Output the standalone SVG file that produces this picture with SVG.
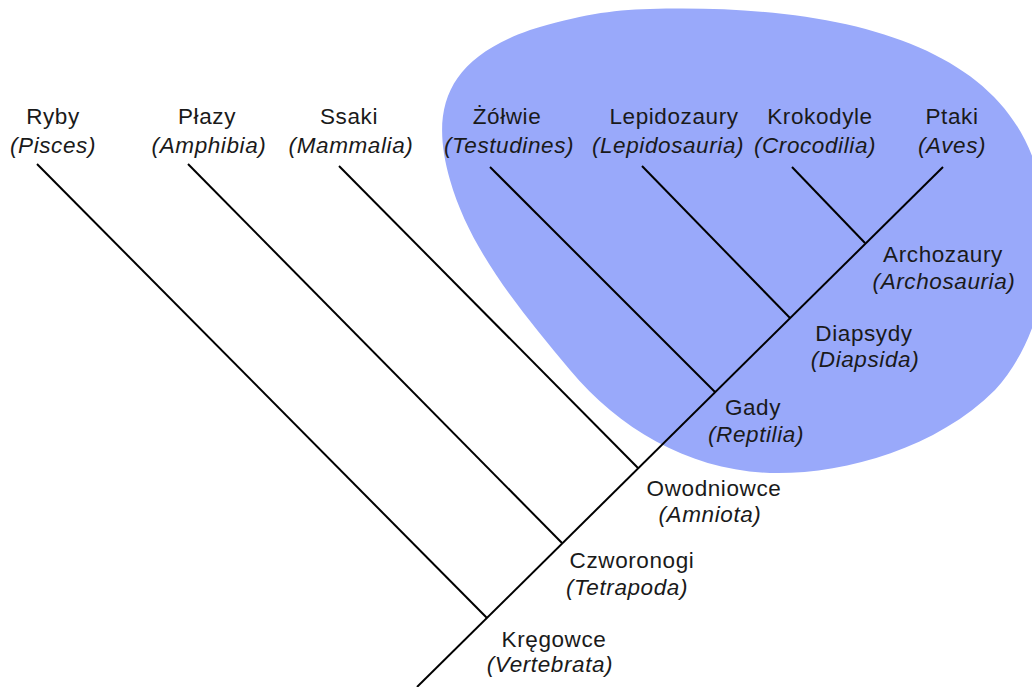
<svg xmlns="http://www.w3.org/2000/svg" width="1032" height="687" viewBox="0 0 1032 687">
<style>
.t{font-family:"Liberation Sans",Arial,sans-serif;font-size:22.5px;letter-spacing:0.6px;fill:#1a1a1a;text-anchor:middle}
.i{font-style:italic}
.c line{stroke:#000;stroke-width:2;stroke-linecap:butt}
</style>
<rect width="1032" height="687" fill="#fff"/>
<path id="reptile-clade" d="M 650,9 C 830,4 975,40 1025,140 C 1065,220 1050,330 995,390 C 935,450 840,475 770,473 C 690,470 620,430 570,370 C 520,310 470,250 450,180 C 430,110 445,60 530,30 C 580,15 610,10 650,9 Z" fill="#99a9fa"/>
<g class="c" id="connectors">
<line x1="417" y1="687" x2="943" y2="167"/>
<line x1="37" y1="164" x2="487" y2="618"/>
<line x1="188" y1="164" x2="562" y2="543"/>
<line x1="339" y1="166" x2="638" y2="468"/>
<line x1="490" y1="167" x2="715" y2="392"/>
<line x1="642" y1="166" x2="790" y2="318"/>
<line x1="792" y1="167" x2="865" y2="243"/>
</g>
<g id="ryby" class="t"><text x="53" y="124">Ryby</text><text class="i" x="53" y="153">(Pisces)</text></g>
<g id="plazy" class="t"><text x="207" y="124">Płazy</text><text class="i" x="209" y="153">(Amphibia)</text></g>
<g id="ssaki" class="t"><text x="349" y="124">Ssaki</text><text class="i" x="351" y="153">(Mammalia)</text></g>
<g id="zolwie" class="t"><text x="507" y="124">Żółwie</text><text class="i" x="509" y="153">(Testudines)</text></g>
<g id="lepidozaury" class="t"><text x="674" y="124">Lepidozaury</text><text class="i" x="668" y="153">(Lepidosauria)</text></g>
<g id="krokodyle" class="t"><text x="820" y="124">Krokodyle</text><text class="i" x="815" y="153">(Crocodilia)</text></g>
<g id="ptaki" class="t"><text x="952" y="124">Ptaki</text><text class="i" x="952" y="153">(Aves)</text></g>
<g id="archozaury" class="t"><text x="943" y="262">Archozaury</text><text class="i" x="944" y="289">(Archosauria)</text></g>
<g id="diapsydy" class="t"><text x="864" y="341">Diapsydy</text><text class="i" x="865" y="367">(Diapsida)</text></g>
<g id="gady" class="t"><text x="753" y="415">Gady</text><text class="i" x="756" y="442">(Reptilia)</text></g>
<g id="owodniowce" class="t"><text x="714" y="496">Owodniowce</text><text class="i" x="710" y="522">(Amniota)</text></g>
<g id="czworonogi" class="t"><text x="632" y="568">Czworonogi</text><text class="i" x="627" y="595">(Tetrapoda)</text></g>
<g id="kregowce" class="t"><text x="554" y="647">Kręgowce</text><text class="i" x="550" y="672">(Vertebrata)</text></g>
</svg>
